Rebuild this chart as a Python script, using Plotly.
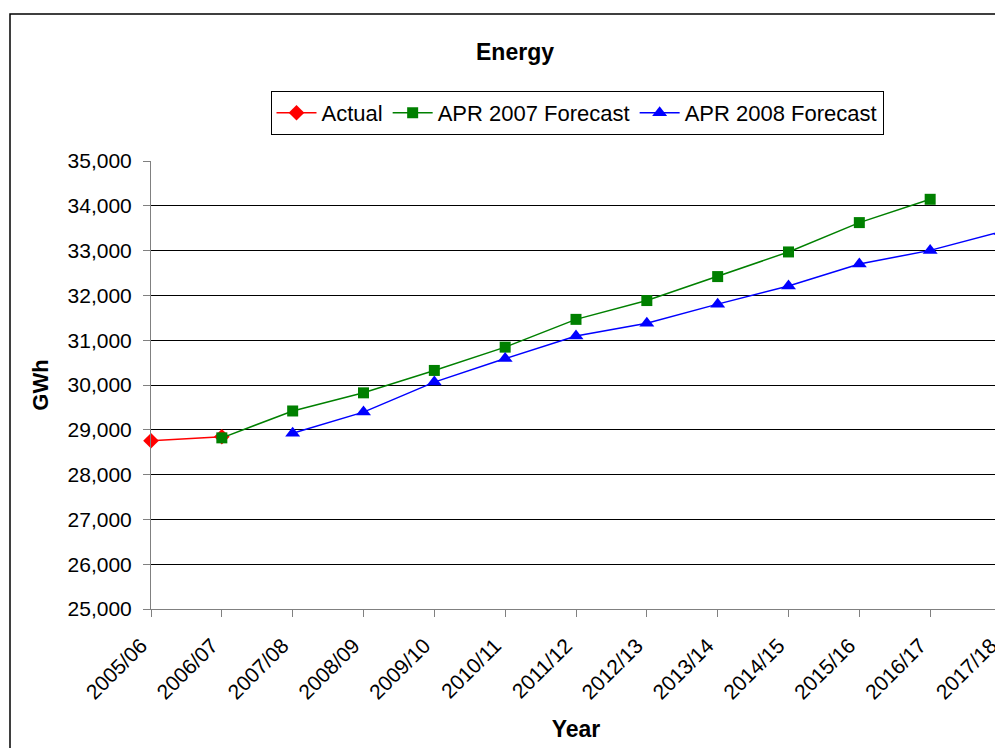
import plotly.graph_objects as go

years = ["2005/06", "2006/07", "2007/08", "2008/09", "2009/10", "2010/11", "2011/12",
         "2012/13", "2013/14", "2014/15", "2015/16", "2016/17", "2017/18"]
actual = [28755, 28845, None, None, None, None, None, None, None, None, None, None, None]
apr2007 = [None, 28820, 29420, 29825, 30325, 30845, 31465, 31885, 32420, 32970, 33625, 34145, None]
apr2008 = [None, None, 28925, 29395, 30065, 30590, 31095, 31380, 31805, 32210, 32700, 33005, 33425]
y_ticks = list(range(25000, 35001, 1000))

FONT = "Liberation Sans, Arial, sans-serif"

# the page body adds an 8px margin; keep the page within the visible window
OFF = 8
W, H = 1003 - OFF, 756 - 2 * OFF
PL, PR, PT, PB = 151, 1001, 161, 609   # plot area in screen pixels
pw, ph = PR - PL, PB - PT

fig = go.Figure()
fig.add_trace(go.Scatter(x=years, y=actual, name="Actual", mode="lines+markers",
                         line=dict(color="#FF0000", width=1.5),
                         marker=dict(symbol="diamond", size=12, color="#FF0000"),
                         cliponaxis=False))
fig.add_trace(go.Scatter(x=years, y=apr2007, name="APR 2007 Forecast", mode="lines+markers",
                         line=dict(color="#008000", width=1.5),
                         marker=dict(symbol="square", size=11, color="#008000"),
                         cliponaxis=False))
fig.add_trace(go.Scatter(x=years, y=apr2008, name="APR 2008 Forecast", mode="lines+markers",
                         line=dict(color="#0000FF", width=1.5),
                         marker=dict(symbol="triangle-up", size=13, color="#0000FF"),
                         cliponaxis=False))

fig.update_layout(
    width=W, height=H,
    margin=dict(l=PL - OFF, r=W - (PR - OFF), t=PT - OFF, b=H - (PB - OFF), autoexpand=False),
    paper_bgcolor="white", plot_bgcolor="white",
    font=dict(family=FONT, size=21, color="black"),
    title=dict(text="<b>Energy</b>", x=(515 - OFF) / W, xanchor="center",
               y=1 - (52 - OFF) / H, yanchor="middle", font=dict(size=23)),
    legend=dict(orientation="h", x=(577 - PL) / pw, xanchor="center",
                y=(PB - 91) / ph, yanchor="top", itemwidth=40,
                bordercolor="black", borderwidth=1, bgcolor="white",
                font=dict(size=22)),
    showlegend=True,
)
fig.update_xaxes(type="category", categoryorder="array", categoryarray=years,
                 range=[0, 12], tickangle=-45, showgrid=False, automargin=False,
                 showline=True, linecolor="#808080", linewidth=1,
                 ticks="outside", ticklen=7, tickcolor="#808080",
                 ticklabelstandoff=8, ticklabelshift=-10,
                 title=dict(text="<b>Year</b>", font=dict(size=23), standoff=18),
                 tickfont=dict(size=21))
fig.update_yaxes(range=[25000, 35000], tickvals=y_ticks, tickformat=",d",
                 showgrid=True, gridcolor="black", gridwidth=1, automargin=False,
                 showline=True, linecolor="#808080", linewidth=1,
                 ticks="outside", ticklen=7, tickcolor="#808080",
                 ticklabelstandoff=7,
                 zeroline=False,
                 title=dict(text="<b>GWh</b>", font=dict(size=22), standoff=12),
                 tickfont=dict(size=21))

# outer chart border
fig.add_shape(type="rect", xref="paper", yref="paper",
              x0=(10 - PL) / pw, x1=1.05, y0=-0.4, y1=(PB - 14) / ph,
              line=dict(color="black", width=1.5), fillcolor="rgba(0,0,0,0)", layer="below")

fig.write_html("out.html")
